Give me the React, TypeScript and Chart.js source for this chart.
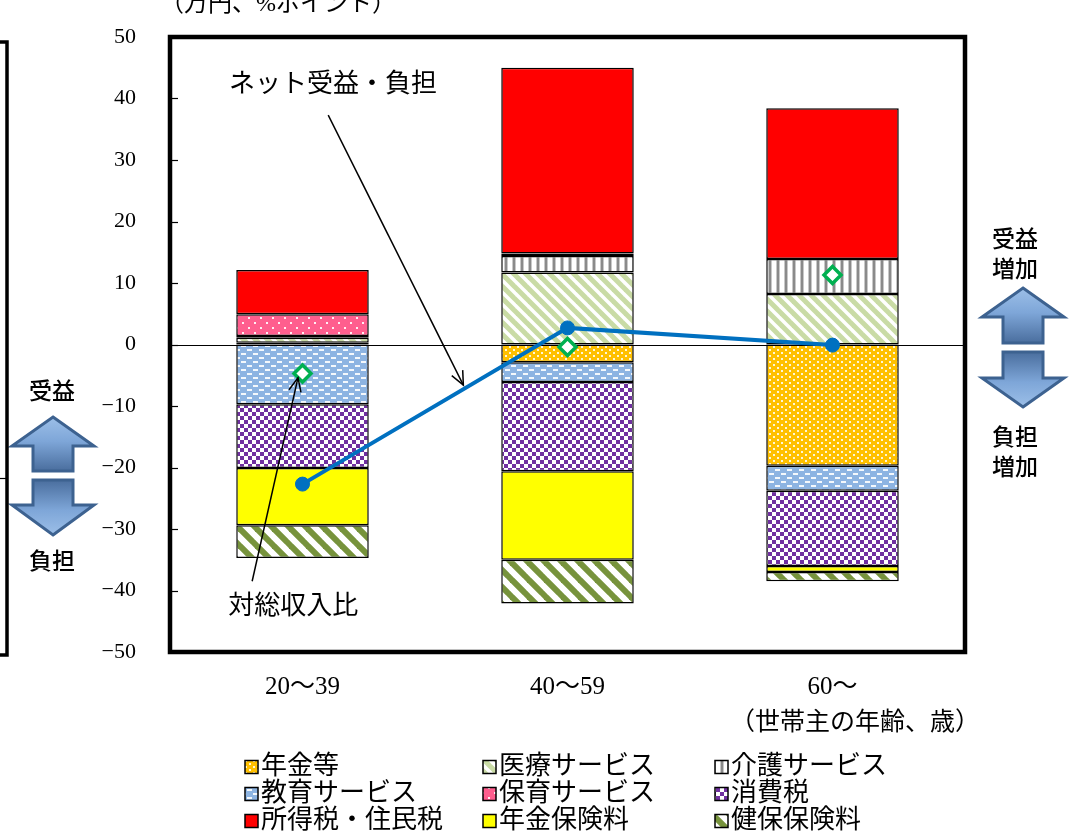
import React, { useEffect, useRef } from 'react';
import { Chart, registerables } from 'chart.js';

Chart.register(...registerables);

// ---- data ----
const categories = ['20～39', '40～59', '60～'];
const seriesNames = ['年金等', '医療サービス', '介護サービス', '教育サービス', '保育サービス', '消費税', '所得税・住民税', '年金保険料', '健保保険料'];
const pensionBenefit = [0.3, -2.9, -19.7];
const medicalService = [0.8, 11.7, 8.2];
const careService = [0.3, 2.7, 5.7];
const educationService = [-9.7, -3.2, -4.1];
const childcareService = [3.5, 0.4, 0];
const consumptionTax = [-10.4, -14.5, -12.2];
const incomeTax = [7.2, 30.2, 24.5];
const pensionPremium = [-9.3, -14.4, -1.0];
const healthPremium = [-5.3, -7.1, -1.5];
const netBenefit = [-22.7, 2.7, -0.1];
const incomeRatio = [-4.7, -0.4, 11.3];
const netLabel = 'ネット受益・負担';
const ratioLabel = '対総収入比';
const unitLabel = '（万円、%ポイント）';
const periodLabel = '（1994年→2019年）';
const xTitle = '（世帯主の年齢、歳）';
const yMin = -50;
const yMax = 50;
const yStep = 10;

const SERIF = "'Liberation Serif', 'Noto Sans CJK JP', serif";
const GOTHIC = "'Noto Sans CJK JP', 'Noto Sans', sans-serif";

function makePattern(w: number, h: number, draw: (c: CanvasRenderingContext2D) => void): CanvasPattern | string {
  const cv = document.createElement('canvas');
  cv.width = w;
  cv.height = h;
  const c = cv.getContext('2d');
  if (!c) return '#999';
  draw(c);
  const p = c.createPattern(cv, 'repeat');
  return p || '#999';
}

function diagPattern(size: number, bg: string, fg: string, lw: number) {
  return makePattern(size, size, (c) => {
    c.fillStyle = bg;
    c.fillRect(0, 0, size, size);
    c.strokeStyle = fg;
    c.lineWidth = lw;
    for (const o of [-size, 0, size]) {
      c.beginPath();
      c.moveTo(o - 2, -2);
      c.lineTo(o + size + 2, size + 2);
      c.stroke();
    }
  });
}

function buildFills() {
  const orange = makePattern(8, 6, (c) => {
    c.fillStyle = '#FFC000';
    c.fillRect(0, 0, 8, 6);
    c.fillStyle = 'rgba(255,255,255,0.85)';
    c.fillRect(1, 1, 2, 2);
    c.fillRect(5, 4, 2, 2);
  });
  const medical = diagPattern(12, '#FFFFFF', '#C9DBA5', 5);
  const care = makePattern(8, 2, (c) => {
    c.fillStyle = '#FFFFFF';
    c.fillRect(0, 0, 8, 2);
    c.fillStyle = '#C8C8C8';
    c.fillRect(0, 0, 4, 2);
    c.fillStyle = '#8A8A8A';
    c.fillRect(1, 0, 2, 2);
  });
  const education = makePattern(12, 8, (c) => {
    c.fillStyle = '#8DB4E2';
    c.fillRect(0, 0, 12, 8);
    c.fillStyle = 'rgba(255,255,255,0.9)';
    c.fillRect(1, 1, 5, 2);
    c.fillRect(7, 5, 5, 2);
  });
  const childcare = makePattern(12, 10, (c) => {
    c.fillStyle = '#FF5E8E';
    c.fillRect(0, 0, 12, 10);
    c.fillStyle = 'rgba(255,255,255,0.9)';
    c.fillRect(2, 2, 2, 2);
    c.fillRect(8, 7, 2, 2);
  });
  const consumption = makePattern(8, 8, (c) => {
    c.fillStyle = '#FFFFFF';
    c.fillRect(0, 0, 8, 8);
    c.fillStyle = '#7030A0';
    c.fillRect(0, 0, 4, 4);
    c.fillRect(4, 4, 4, 4);
  });
  const health = diagPattern(17, '#FFFFFF', '#77933C', 6);
  return [orange, medical, care, education, childcare, consumption, '#FF0000', '#FFFF00', health];
}

function drawBlockArrow(ctx: CanvasRenderingContext2D, cx: number, tipY: number, headY: number, endY: number, halfHead: number, halfShaft: number) {
  ctx.save();
  ctx.beginPath();
  ctx.moveTo(cx, tipY);
  ctx.lineTo(cx + halfHead, headY);
  ctx.lineTo(cx + halfShaft, headY);
  ctx.lineTo(cx + halfShaft, endY);
  ctx.lineTo(cx - halfShaft, endY);
  ctx.lineTo(cx - halfShaft, headY);
  ctx.lineTo(cx - halfHead, headY);
  ctx.closePath();
  const g = ctx.createLinearGradient(0, tipY, 0, endY);
  g.addColorStop(0, '#9CBFE8');
  g.addColorStop(0.45, '#7EA6D8');
  g.addColorStop(1, '#4A6E9E');
  ctx.fillStyle = g;
  ctx.fill();
  ctx.strokeStyle = '#3D6290';
  ctx.lineWidth = 3;
  ctx.lineJoin = 'miter';
  ctx.stroke();
  ctx.restore();
}

function drawLineArrow(ctx: CanvasRenderingContext2D, x1: number, y1: number, x2: number, y2: number) {
  ctx.save();
  ctx.strokeStyle = '#000';
  ctx.lineWidth = 1.5;
  ctx.beginPath();
  ctx.moveTo(x1, y1);
  ctx.lineTo(x2, y2);
  ctx.stroke();
  const a = Math.atan2(y2 - y1, x2 - x1);
  const L = 15;
  const s = 0.42;
  ctx.beginPath();
  ctx.moveTo(x2 - L * Math.cos(a - s), y2 - L * Math.sin(a - s));
  ctx.lineTo(x2, y2);
  ctx.lineTo(x2 - L * Math.cos(a + s), y2 - L * Math.sin(a + s));
  ctx.stroke();
  ctx.restore();
}

const extrasPlugin = {
  id: 'extras',
  beforeDatasetsDraw(chart: any) {
    const { ctx, chartArea, scales } = chart;
    const y0 = scales.y.getPixelForValue(0);
    ctx.save();
    ctx.strokeStyle = '#000';
    ctx.lineWidth = 1;
    ctx.beginPath();
    ctx.moveTo(chartArea.left, Math.round(y0) + 0.5);
    ctx.lineTo(chartArea.right, Math.round(y0) + 0.5);
    ctx.stroke();
    ctx.restore();
  },
  afterDraw(chart: any) {
    const { ctx, chartArea, scales } = chart;
    const xs = scales.x;
    const ys = scales.y;
    const px = (i: number) => xs.getPixelForValue(i);
    const py = (v: number) => ys.getPixelForValue(v);
    ctx.save();
    // plot border
    ctx.strokeStyle = '#000';
    ctx.lineWidth = 4.5;
    ctx.strokeRect(chartArea.left, chartArea.top, chartArea.right - chartArea.left, chartArea.bottom - chartArea.top);
    // inner ticks
    ctx.lineWidth = 1.2;
    for (let v = yMin; v <= yMax; v += yStep) {
      const yy = Math.round(py(v)) + 0.5;
      ctx.beginPath();
      ctx.moveTo(chartArea.left, yy);
      ctx.lineTo(chartArea.left + 8, yy);
      ctx.stroke();
    }
    // annotations
    ctx.fillStyle = '#000';
    ctx.font = `26px ${SERIF}`;
    ctx.textAlign = 'center';
    ctx.textBaseline = 'middle';
    ctx.fillText(netLabel, px(0.115), py(42.2));
    drawLineArrow(ctx, px(0.097), py(37.3), px(0.607), py(-6.6));
    ctx.fillText(ratioLabel, px(-0.035), py(-42.7));
    drawLineArrow(ctx, px(-0.19), py(-38.5), px(-0.017), py(-5.4));

    // top labels
    ctx.font = `24px ${SERIF}`;
    ctx.textAlign = 'left';
    ctx.fillText(unitLabel, 160, 5);
    ctx.fillText(periodLabel, 455, -9);
    ctx.font = `25px ${SERIF}`;
    ctx.fillText(xTitle, 730, 723);

    // legend
    const fills = chart.data.datasets.slice(0, 9).map((d: any) => d.backgroundColor);
    const colX = [245, 483, 715];
    const rowY = [767, 794, 821];
    ctx.font = `26px ${SERIF}`;
    for (let i = 0; i < 9; i++) {
      const cx = colX[i % 3];
      const cy = rowY[Math.floor(i / 3)];
      ctx.fillStyle = fills[i];
      ctx.fillRect(cx, cy - 6.5, 13, 13);
      ctx.strokeStyle = '#000';
      ctx.lineWidth = 1.5;
      ctx.strokeRect(cx, cy - 6.5, 13, 13);
      ctx.fillStyle = '#000';
      ctx.fillText(seriesNames[i], cx + 16, cy);
    }

    // block arrows and labels
    drawBlockArrow(ctx, 53, 417, 446, 471, 41, 20);
    drawBlockArrow(ctx, 53, 535, 505, 480, 41, 20);
    drawBlockArrow(ctx, 1023, 288, 317, 343, 41, 20);
    drawBlockArrow(ctx, 1023, 407, 378, 352, 41, 20);
    ctx.fillStyle = '#000';
    ctx.font = `500 23px ${GOTHIC}`;
    ctx.textAlign = 'center';
    ctx.fillText('受益', 52, 390);
    ctx.fillText('負担', 52, 560);
    ctx.fillText('受益', 1015, 238);
    ctx.fillText('増加', 1015, 268);
    ctx.fillText('負担', 1015, 436);
    ctx.fillText('増加', 1015, 466);

    // partial neighbouring frame on the left edge
    ctx.strokeStyle = '#000';
    ctx.lineWidth = 3.5;
    ctx.beginPath();
    ctx.moveTo(0, 42);
    ctx.lineTo(7, 42);
    ctx.lineTo(7, 655);
    ctx.lineTo(0, 655);
    ctx.stroke();
    ctx.lineWidth = 1.2;
    ctx.beginPath();
    ctx.moveTo(0, 478.5);
    ctx.lineTo(7, 478.5);
    ctx.stroke();
    ctx.restore();
  },
};

export default function App() {
  const ref = useRef<HTMLCanvasElement | null>(null);
  useEffect(() => {
    if (!ref.current) return;
    const fills = buildFills();
    const barSeries = [pensionBenefit, medicalService, careService, educationService, childcareService, consumptionTax, incomeTax, pensionPremium, healthPremium];
    const barDatasets = barSeries.map((vals, i) => ({
      type: 'bar' as const,
      label: seriesNames[i],
      data: vals,
      backgroundColor: fills[i],
      borderColor: '#000',
      borderWidth: 1.5,
      borderSkipped: false,
      stack: 'bars',
      order: 3,
      barPercentage: 0.5,
      categoryPercentage: 1,
    }));
    const chart = new Chart(ref.current, {
      type: 'bar',
      data: {
        labels: categories,
        datasets: [
          ...barDatasets,
          {
            type: 'line' as const,
            label: netLabel,
            data: netBenefit,
            borderColor: '#0070C0',
            backgroundColor: '#0070C0',
            borderWidth: 4,
            pointRadius: 7,
            pointBorderWidth: 1,
            pointBackgroundColor: '#0070C0',
            pointBorderColor: '#0070C0',
            tension: 0,
            stack: 'net',
            order: 2,
          },
          {
            type: 'line' as const,
            label: ratioLabel,
            data: incomeRatio,
            showLine: false,
            pointStyle: 'rectRot',
            pointRadius: 8.5,
            pointBorderWidth: 3.5,
            pointBackgroundColor: '#FFFFFF',
            pointBorderColor: '#00B050',
            borderColor: '#00B050',
            backgroundColor: '#FFFFFF',
            stack: 'ratio',
            order: 1,
          },
        ] as any,
      },
      options: {
        responsive: false,
        animation: false,
        layout: { padding: { left: 0, top: 37, right: 105, bottom: 123 } },
        plugins: { legend: { display: false }, tooltip: { enabled: false } },
        scales: {
          x: {
            stacked: true,
            grid: { display: false, drawTicks: false },
            border: { display: false },
            ticks: { color: '#000', font: { family: SERIF, size: 25 }, padding: 20 },
            afterFit: (s: any) => { s.height = 60; s.paddingLeft = 0; s.paddingRight = 0; },
          },
          y: {
            stacked: true,
            min: yMin,
            max: yMax,
            grid: { display: false, drawTicks: false },
            border: { display: false },
            ticks: {
              stepSize: yStep,
              color: '#000',
              font: { family: SERIF, size: 22 },
              padding: 34,
              callback: (v: any) => (Number(v) < 0 ? '−' + Math.abs(Number(v)) : String(v)),
            },
            afterFit: (s: any) => { s.width = 170; s.paddingTop = 0; s.paddingBottom = 0; },
          },
        },
      } as any,
      plugins: [extrasPlugin],
    });
    return () => chart.destroy();
  }, []);
  return (
    <div style={{ position: 'absolute', left: 0, top: 0, width: 1070, height: 835, background: '#fff' }}>
      <canvas ref={ref} width={1070} height={835} style={{ display: 'block', width: 1070, height: 835 }} />
    </div>
  );
}
